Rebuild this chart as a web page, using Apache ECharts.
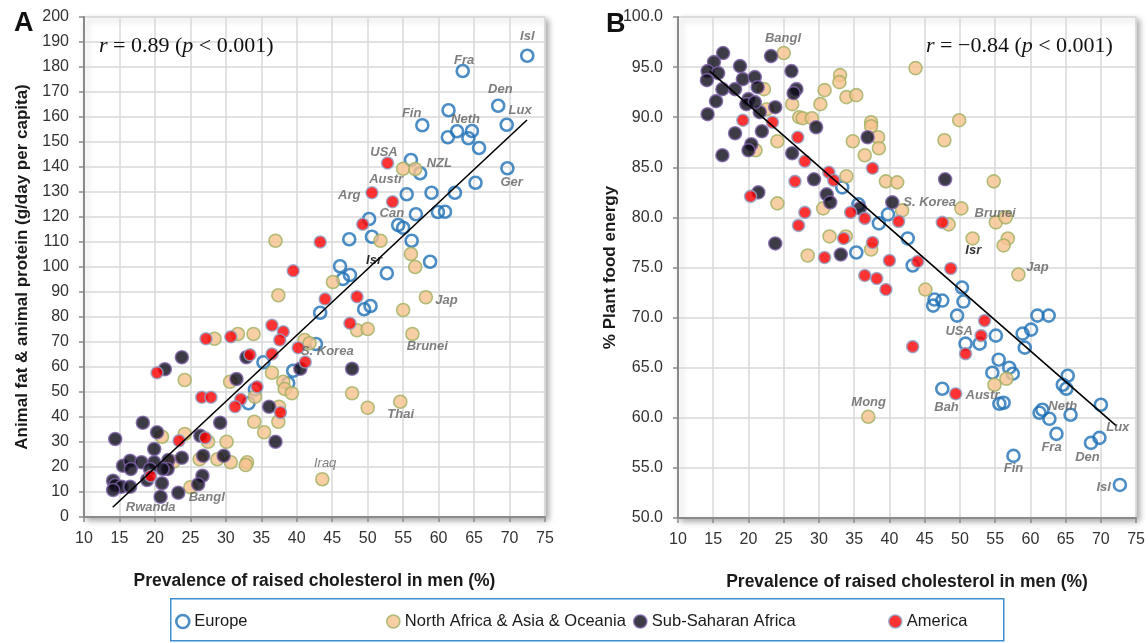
<!DOCTYPE html>
<html>
<head>
<meta charset="utf-8">
<script src="https://cdn.jsdelivr.net/npm/echarts@6/dist/echarts.min.js"></script>
<style>
html,body{margin:0;padding:0;background:#ffffff;}
#c{width:1148px;height:643px;}
</style>
</head>
<body>
<div id="c"></div>
<script>
// Panel A: prevalence of raised cholesterol (%) vs animal fat & animal protein (g/day per capita)
const A_europe = [[72.5,184.5],[63.4,178.4],[68.4,164.5],[69.6,156.9],[57.7,156.7],[61.4,162.7],[62.6,154.3],[64.7,154.4],[61.3,151.9],[64.2,151.5],[65.7,147.6],[56.1,142.8],[57.4,137.5],[69.7,139.5],[65.2,133.7],[55.5,129.1],[59.0,129.7],[62.3,129.7],[50.2,119.2],[56.8,121.1],[59.9,122.0],[60.9,122.1],[54.3,116.8],[55.0,115.7],[56.2,110.5],[47.4,111.1],[50.6,112.1],[58.8,102.1],[46.1,100.3],[46.5,95.2],[47.5,96.8],[52.7,97.5],[49.5,83.1],[50.4,84.4],[43.3,81.7],[42.7,69.2],[39.5,58.5],[38.8,53.5],[35.3,61.9],[34.1,51.0],[33.2,45.5]];
const A_nao = [[55.0,139.3],[56.7,139.2],[37.0,110.5],[51.8,110.5],[56.1,105.2],[56.7,100.0],[37.4,88.7],[45.1,94.0],[58.2,87.9],[55.0,82.8],[56.3,73.2],[48.5,74.7],[50.0,75.2],[41.1,70.8],[41.8,69.5],[28.4,71.3],[31.7,73.2],[33.9,73.2],[36.5,57.7],[24.2,54.8],[30.6,54.1],[38.1,54.1],[38.3,51.2],[39.3,49.5],[34.1,48.1],[37.5,44.1],[34.0,38.1],[35.4,33.9],[37.4,38.1],[47.8,49.5],[50.0,43.7],[54.6,46.1],[43.6,15.1],[21.0,32.1],[24.2,33.2],[27.5,30.1],[30.1,30.1],[26.3,23.1],[28.8,23.1],[30.7,21.9],[33.0,21.9],[32.8,20.8],[22.6,22.1],[25.0,11.9]];
const A_ssa = [[47.8,59.3],[40.5,59.3],[32.9,63.9],[23.8,63.9],[21.4,59.1],[31.5,55.2],[36.1,44.1],[37.0,30.1],[18.3,37.7],[14.4,31.2],[20.3,33.9],[26.4,32.5],[29.2,37.7],[19.9,27.2],[23.8,23.7],[26.8,24.5],[29.7,24.5],[15.5,20.5],[16.5,22.5],[18.1,21.9],[19.9,21.9],[21.9,22.8],[21.8,19.2],[21.1,19.2],[16.6,19.2],[19.3,19.2],[18.9,14.8],[14.1,14.5],[14.4,12.8],[15.3,12.1],[16.5,12.1],[21.0,13.5],[14.1,10.8],[26.7,16.5],[26.1,13.1],[23.3,9.7],[20.8,8.1]];
const A_america = [[52.8,141.6],[50.6,129.7],[53.5,126.1],[49.3,117.1],[43.3,110.0],[39.5,98.5],[44.0,87.2],[48.5,88.1],[47.5,77.5],[38.1,74.1],[37.6,70.8],[40.2,67.7],[41.2,62.0],[37.7,41.8],[36.5,76.7],[36.5,65.2],[33.4,64.9],[27.2,71.3],[30.7,72.1],[20.3,57.7],[34.4,52.1],[32.1,47.1],[31.3,44.1],[26.6,47.9],[27.9,47.9],[23.4,30.5],[27.1,31.7],[19.4,16.4]];
const A_fit = [[14.05,3.9],[72.46,158.8]];
const A_names = [['Isl',72.5,192.1],['Fra',63.6,182.8],['Den',68.7,171.1],['Lux',71.5,162.8],['Fin',56.2,161.5],['Neth',63.8,159.1],['USA',52.3,146.0],['NZL',60.1,141.5],['Ger',70.3,133.7],['Austr',52.6,135.1],['Arg',47.4,128.8],['Can',53.4,121.5],['Isr',50.9,102.8],['Jap',61.1,86.8],['Brunei',58.4,68.4],['S. Korea',44.3,66.4],['Thai',54.65,41.1],['Iraq',44.0,21.5],['Rwanda',19.4,3.9],['Bangl',27.3,7.7]];

// Panel B: prevalence of raised cholesterol (%) vs share of energy from plant foods (%)
const B_europe = [[33.3,83.0],[35.6,81.3],[38.5,79.4],[39.8,80.3],[35.3,76.5],[42.6,77.9],[43.3,75.2],[50.3,73.0],[50.5,71.6],[46.4,71.8],[47.5,71.7],[46.2,71.2],[49.6,70.2],[55.1,68.2],[52.8,67.4],[50.8,67.4],[61.0,70.2],[62.6,70.2],[60.1,68.8],[58.9,68.4],[59.2,67.0],[55.5,65.8],[57.0,65.0],[54.6,64.5],[57.5,64.4],[65.3,64.2],[64.6,63.3],[65.1,62.9],[47.5,62.9],[55.6,61.4],[56.2,61.5],[61.3,60.5],[61.7,60.8],[62.7,59.9],[65.7,60.3],[70.0,61.3],[63.7,58.4],[68.6,57.5],[69.8,58.0],[57.6,56.2],[72.7,53.3]];
const B_nao = [[25.0,96.4],[22.2,92.8],[22.6,90.8],[24.1,87.6],[21.0,86.7],[26.2,91.3],[27.2,90.0],[27.7,89.9],[29.0,89.9],[30.2,91.3],[30.8,92.7],[33.0,94.2],[32.9,93.5],[33.9,92.0],[35.3,92.2],[34.8,87.6],[33.9,84.1],[36.5,86.2],[43.7,94.9],[37.4,89.5],[37.4,89.1],[49.9,89.7],[38.4,88.0],[38.5,86.9],[47.8,87.7],[39.5,83.6],[41.1,83.5],[54.8,83.6],[41.8,80.7],[50.2,80.9],[48.4,79.3],[55.1,79.5],[56.5,80.0],[51.8,77.9],[56.8,77.9],[56.2,77.2],[58.3,74.3],[37.4,76.8],[45.1,72.8],[56.6,63.9],[54.9,63.3],[37.0,60.1],[24.1,81.4],[28.4,76.2],[30.6,80.9],[31.5,78.1],[33.8,78.1]];
const B_ssa = [[16.4,96.4],[15.1,95.5],[14.2,94.6],[15.7,94.4],[14.1,93.7],[16.3,92.8],[15.4,91.6],[14.2,90.3],[16.3,86.2],[18.1,92.8],[18.8,95.1],[19.2,93.8],[20.0,91.8],[19.7,91.3],[20.9,94.0],[21.3,93.0],[21.6,90.5],[20.9,91.5],[21.9,88.6],[18.1,88.4],[20.4,87.3],[20.0,86.7],[23.2,96.1],[23.8,91.0],[26.1,94.6],[26.8,92.8],[26.4,92.4],[26.2,86.4],[29.6,89.0],[29.3,83.8],[21.4,82.5],[31.1,82.3],[31.6,81.5],[23.8,77.4],[33.1,76.3],[35.8,80.9],[36.9,88.0],[47.9,83.8],[40.4,81.5]];
const B_america = [[19.2,89.7],[23.4,89.5],[27.0,88.0],[28.0,85.6],[26.6,83.6],[31.4,84.5],[32.1,83.7],[20.3,82.1],[28.0,80.5],[27.1,79.2],[30.8,76.0],[33.5,77.9],[34.5,80.5],[37.6,84.9],[36.5,79.9],[41.3,79.6],[47.5,79.5],[37.6,77.5],[40.0,75.7],[44.0,75.6],[48.7,74.9],[36.5,74.2],[38.2,73.9],[39.5,72.8],[53.5,69.7],[53.0,68.2],[50.8,66.4],[43.3,67.1],[49.4,62.4]];
const B_fit = [[14.5,94.6],[72.2,59.2]];
const B_names = [['Bangl',24.9,97.9],['S. Korea',45.7,81.5],['Brunei',55.0,80.4],['Isr',51.9,76.7],['Jap',61.0,75.0],['USA',49.9,68.6],['Mong',37.05,61.5],['Bah',48.1,61.0],['Austr',53.2,62.2],['Neth',64.6,61.1],['Lux',72.4,59.0],['Fra',63.0,57.0],['Den',68.1,56.0],['Fin',57.6,54.9],['Isl',70.4,53.1]];

const groups = ['Europe', 'North Africa & Asia & Oceania', 'Sub-Saharan Africa', 'America'];
const panelData = [[A_europe, A_nao, A_ssa, A_america], [B_europe, B_nao, B_ssa, B_america]];
const fits = [A_fit, B_fit];
const nameLists = [A_names, B_names];

const SANS = '"Liberation Sans", Arial, sans-serif';
const SERIF = '"Liberation Serif", "Times New Roman", serif';

const groupStyle = [
  {symbolSize: 12, itemStyle: {color: 'rgba(255,255,255,0)', borderColor: '#1f70b6', borderWidth: 2.6}},
  {symbolSize: 13, itemStyle: {color: '#f6c28f', borderColor: '#9fb060', borderWidth: 1.6}},
  {symbolSize: 13, itemStyle: {color: '#0c0a18', borderColor: '#7c62a6', borderWidth: 1.6}},
  {symbolSize: 12, itemStyle: {color: '#ff0000', borderColor: '#8fa2c8', borderWidth: 1.6}}
];

const series = [];
panelData.forEach((sets, p) => {
  sets.forEach((pts, g) => {
    series.push({
      type: 'scatter', name: groups[g], xAxisIndex: p, yAxisIndex: p,
      data: pts, symbol: 'circle', symbolSize: groupStyle[g].symbolSize,
      itemStyle: groupStyle[g].itemStyle, z: 3 + g, silent: true
    });
  });
  series.push({
    type: 'line', xAxisIndex: p, yAxisIndex: p, data: fits[p], symbol: 'none',
    lineStyle: {color: '#000', width: 1.6}, z: 10, silent: true
  });
  series.push({
    type: 'scatter', xAxisIndex: p, yAxisIndex: p, symbolSize: 1, silent: true, z: 11,
    itemStyle: {color: 'rgba(0,0,0,0)'},
    data: nameLists[p].map(n => ({
      name: n[0], value: [n[1], n[2]],
      label: {
        show: true, position: 'inside', formatter: n[0],
        fontFamily: SANS, fontSize: 13, fontStyle: 'italic',
        fontWeight: n[0] === 'Iraq' ? 'normal' : 'bold',
        color: n[0] === 'Isr' ? '#000000' : '#5f5f5f'
      }
    }))
  });
});

const gridBase = {
  show: true, backgroundColor: '#ffffff', borderColor: '#d4d4d4', borderWidth: 1,
  shadowColor: 'rgba(0,0,0,0.35)', shadowBlur: 6, shadowOffsetX: 3, shadowOffsetY: 3
};

const axisLineStyle = {show: true, lineStyle: {color: '#8a8a8a', width: 2}};
const axisTickStyle = {show: true, length: 5, lineStyle: {color: '#8a8a8a', width: 1.5}};
const splitStyle = {show: true, lineStyle: {color: '#d9d9d9', width: 1.5}};

function xAxis(idx) {
  return {
    type: 'value', gridIndex: idx, min: 10, max: 75, interval: 5,
    name: 'Prevalence of raised cholesterol in men (%)', nameLocation: 'middle', nameGap: 55,
    nameTextStyle: {fontFamily: SANS, fontSize: 17.5, fontWeight: 'bold', color: '#1a1a1a'},
    axisLine: axisLineStyle, axisTick: axisTickStyle, splitLine: splitStyle,
    axisLabel: {fontFamily: SANS, fontSize: 16, color: '#333', margin: 14}
  };
}

const option = {
  animation: false,
  backgroundColor: '#ffffff',
  grid: [
    Object.assign({left: 84, top: 17, width: 461, height: 500}, gridBase),
    Object.assign({left: 678, top: 17, width: 459, height: 501}, gridBase)
  ],
  xAxis: [xAxis(0), xAxis(1)],
  yAxis: [
    {
      type: 'value', gridIndex: 0, min: 0, max: 200, interval: 10,
      name: 'Animal fat & animal protein (g/day per capita)', nameLocation: 'middle', nameGap: 53,
      nameTextStyle: {fontFamily: SANS, fontSize: 17, fontWeight: 'bold', color: '#1a1a1a'},
      axisLine: axisLineStyle, axisTick: axisTickStyle, splitLine: splitStyle,
      axisLabel: {fontFamily: SANS, fontSize: 16, color: '#333', margin: 15}
    },
    {
      type: 'value', gridIndex: 1, min: 50, max: 100, interval: 5,
      name: '% Plant food energy', nameLocation: 'middle', nameGap: 53,
      nameTextStyle: {fontFamily: SANS, fontSize: 17, fontWeight: 'bold', color: '#1a1a1a'},
      axisLine: axisLineStyle, axisTick: axisTickStyle, splitLine: splitStyle,
      axisLabel: {fontFamily: SANS, fontSize: 16, color: '#333', margin: 15, formatter: v => v.toFixed(1)}
    }
  ],
  title: [
    {text: 'A', left: 9, top: 5, textStyle: {fontFamily: SANS, fontSize: 27, fontWeight: 'bold', color: '#111'}},
    {text: 'B', left: 601, top: 6, textStyle: {fontFamily: SANS, fontSize: 27, fontWeight: 'bold', color: '#111'}},
    {text: '{i|r} = 0.89 ({i|p} < 0.001)', left: 94, top: 30,
      textStyle: {fontFamily: SERIF, fontSize: 22, fontWeight: 'normal', color: '#111',
        rich: {i: {fontFamily: SERIF, fontSize: 22, fontStyle: 'italic', color: '#111'}}}},
    {text: '{i|r} = \u22120.84 ({i|p} < 0.001)', left: 921, top: 30,
      textStyle: {fontFamily: SERIF, fontSize: 22, fontWeight: 'normal', color: '#111',
        rich: {i: {fontFamily: SERIF, fontSize: 22, fontStyle: 'italic', color: '#111'}}}}
  ],
  legend: groups.map((g, i) => ({
    data: [{name: g, icon: 'circle', itemStyle: groupStyle[i].itemStyle}],
    left: [170, 381, 628, 883][i], top: 608, itemWidth: 13, itemHeight: 13, itemGap: 0,
    selectedMode: false, textStyle: {fontFamily: SANS, fontSize: 16.5, color: '#1a1a1a'}
  })),
  graphic: [
    {type: 'rect', left: 170, top: 598, silent: true, z: -1,
      shape: {x: 0, y: 0, width: 833, height: 42},
      style: {fill: 'rgba(0,0,0,0)', stroke: '#3f8fd0', lineWidth: 1.5}}
  ],
  series: series
};

const chart = echarts.init(document.getElementById('c'), null, {renderer: 'canvas'});
chart.setOption(option);
</script>
</body>
</html>
